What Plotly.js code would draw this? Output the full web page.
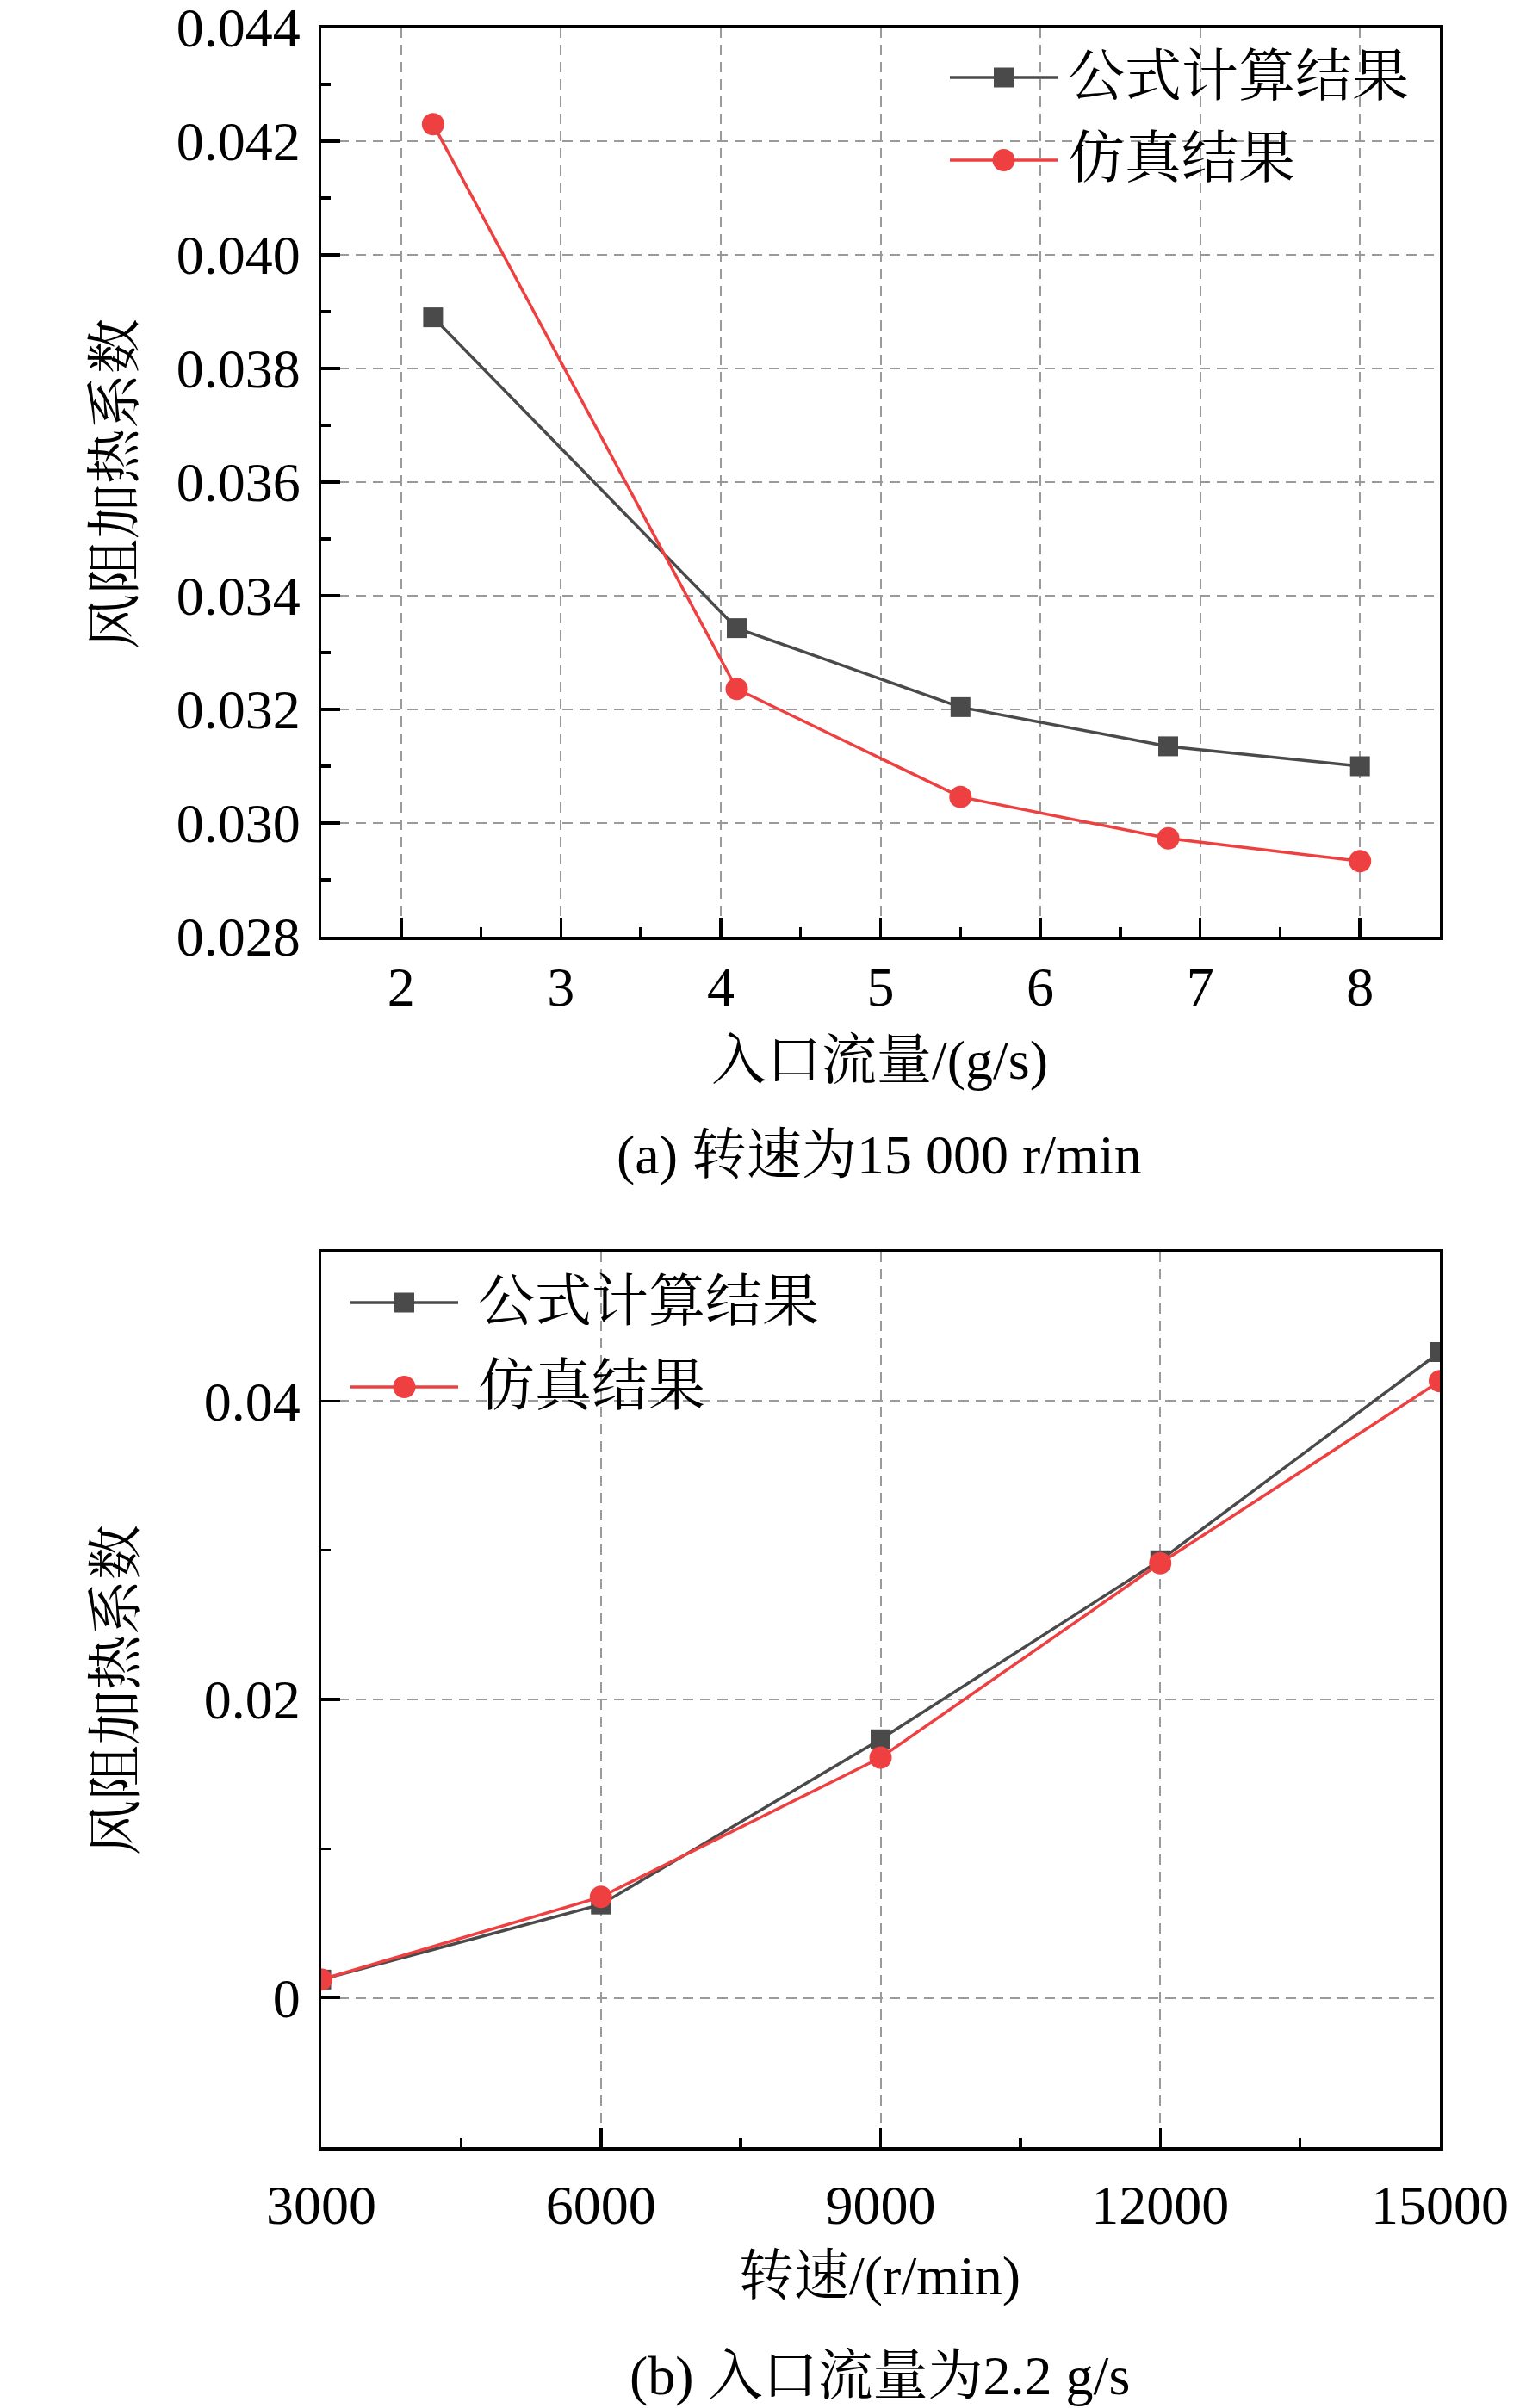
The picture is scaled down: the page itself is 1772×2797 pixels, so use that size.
<!DOCTYPE html>
<html>
<head>
<meta charset="utf-8">
<script src="https://cdn.plot.ly/plotly-3.0.1.min.js"></script>
<style>
  body { margin: 0; background: #fff; }
  #chart { width: 1772px; height: 2797px; }
</style>
</head>
<body>
<div id="chart"></div>
<script>
// (a) 转速为15 000 r/min
const flowRate = [2.2, 4.1, 5.5, 6.8, 8];
const formulaA = [0.0389, 0.03343, 0.03204, 0.03135, 0.0310];
const simA = [0.0423, 0.03236, 0.03046, 0.02973, 0.02933];

// (b) 入口流量为2.2 g/s
const speed = [3000, 6000, 9000, 12000, 15000];
const formulaB = [0.00123, 0.00626, 0.01733, 0.02933, 0.04328];
const simB = [0.00123, 0.00677, 0.0161, 0.02913, 0.04133];

const seriesNames = ['公式计算结果', '仿真结果'];
const captions = ['(a) 转速为15 000 r/min', '(b) 入口流量为2.2 g/s'];
const xTitles = ['入口流量/(g/s)', '转速/(r/min)'];
const yTitle = '风阻加热系数';

const W = 1772, H = 2797;
const px = x => x / W;
const py = y => 1 - y / H;

const FONT = 'Liberation Serif, Times New Roman, Noto Serif CJK SC, Noto Sans CJK SC, serif';
const GRAY = '#4a4a4a';
const RED = '#ee4040';

function axisStyle(extra) {
  return Object.assign({
    showline: true,
    linecolor: '#000',
    linewidth: 3.5,
    mirror: true,
    ticks: 'inside',
    ticklen: 22,
    tickwidth: 3.5,
    tickcolor: '#000',
    showgrid: true,
    gridcolor: '#9a9a9a',
    gridwidth: 2,
    griddash: '12px,8px',
    zeroline: false,
    ticklabeloverflow: 'allow',
    tickfont: { family: FONT, size: 64, color: '#000' }
  }, extra);
}

function minorTicks(dtick, tick0) {
  return { ticks: 'inside', ticklen: 11, tickwidth: 3.5, tickcolor: '#000', showgrid: false, dtick: dtick, tick0: tick0 };
}

function trace(x, y, name, color, symbol, size, xa, ya) {
  return {
    x: x, y: y, name: name,
    type: 'scatter', mode: 'lines+markers',
    line: { color: color, width: 3.5 },
    marker: { color: color, symbol: symbol, size: size },
    xaxis: xa, yaxis: ya,
    showlegend: false
  };
}

const data = [
  trace(flowRate, formulaA, seriesNames[0], GRAY, 'square', 23, 'x', 'y'),
  trace(flowRate, simA, seriesNames[1], RED, 'circle', 26, 'x', 'y'),
  trace(speed, formulaB, seriesNames[0], GRAY, 'square', 23, 'x2', 'y2'),
  trace(speed, simB, seriesNames[1], RED, 'circle', 26, 'x2', 'y2')
];

// hand-made legend (white box, line sample, marker, text)
function legend(box, lineX0, lineX1, textX, rowY) {
  const shapes = [{
    type: 'rect', xref: 'paper', yref: 'paper', layer: 'between',
    x0: px(box[0]), x1: px(box[1]), y0: py(box[3]), y1: py(box[2]),
    fillcolor: '#fff', line: { width: 0 }
  }];
  const anns = [];
  const cx = (lineX0 + lineX1) / 2;
  [GRAY, RED].forEach((c, i) => {
    const y = rowY[i];
    shapes.push({
      type: 'line', xref: 'paper', yref: 'paper',
      x0: px(lineX0), x1: px(lineX1), y0: py(y), y1: py(y),
      line: { color: c, width: 3.5 }
    });
    if (i === 0) {
      shapes.push({
        type: 'rect', xref: 'paper', yref: 'paper',
        x0: px(cx - 11.5), x1: px(cx + 11.5), y0: py(y + 11.5), y1: py(y - 11.5),
        fillcolor: c, line: { width: 0 }
      });
    } else {
      shapes.push({
        type: 'circle', xref: 'paper', yref: 'paper',
        x0: px(cx - 13), x1: px(cx + 13), y0: py(y + 13), y1: py(y - 13),
        fillcolor: c, line: { width: 0 }
      });
    }
    anns.push({
      text: seriesNames[i], xref: 'paper', yref: 'paper',
      x: px(textX), y: py(y - 2), xanchor: 'left', yanchor: 'middle',
      showarrow: false, font: { family: FONT, size: 66, color: '#000' }
    });
  });
  return { shapes, anns };
}

const legA = legend([1090, 1655, 36, 232], 1103, 1228, 1238, [90, 186]);
const legB = legend([376, 985, 1457, 1650], 407, 532, 553, [1513, 1611]);

function label(text, x, y, size, angle) {
  return {
    text: text, xref: 'paper', yref: 'paper', x: px(x), y: py(y),
    xanchor: 'center', yanchor: 'middle', showarrow: false,
    textangle: angle || 0,
    font: { family: FONT, size: size, color: '#000' }
  };
}

const layout = {
  width: W, height: H,
  margin: { l: 0, r: 0, t: 0, b: 0 },
  paper_bgcolor: '#fff', plot_bgcolor: '#fff',
  font: { family: FONT, color: '#000' },
  showlegend: false,
  xaxis: axisStyle({
    domain: [px(373), px(1672)], anchor: 'y',
    range: [1.5, 8.5], tick0: 2, dtick: 1,
    ticklabelstandoff: 0,
    minor: minorTicks(0.5, 2)
  }),
  yaxis: axisStyle({
    domain: [py(1088), py(32)], anchor: 'x',
    range: [0.0279999, 0.0440001], tick0: 0.028, dtick: 0.002,
    tickformat: '.3f', ticklabelstandoff: 8,
    minor: minorTicks(0.001, 0.028)
  }),
  xaxis2: axisStyle({
    domain: [px(373), px(1672)], anchor: 'y2',
    range: [3000, 15000], tick0: 3000, dtick: 3000,
    tickformat: 'd', ticklabelstandoff: 9,
    minor: minorTicks(1500, 3000)
  }),
  yaxis2: axisStyle({
    domain: [py(2494), py(1454)], anchor: 'x2',
    range: [-0.01, 0.05], tick0: 0, dtick: 0.02,
    ticklabelstandoff: 8,
    minor: minorTicks(0.01, 0)
  }),
  shapes: legA.shapes.concat(legB.shapes),
  annotations: legA.anns.concat(legB.anns).concat([
    label(yTitle, 134, 562, 64, -90),
    label(yTitle, 134, 1963, 64, -90),
    label(xTitles[0], 1021, 1231, 64),
    label(captions[0], 1021, 1342, 64),
    label(xTitles[1], 1021, 2643, 64),
    label(captions[1], 1021, 2759, 64)
  ])
};

Plotly.newPlot('chart', data, layout, { staticPlot: true });
</script>
</body>
</html>
